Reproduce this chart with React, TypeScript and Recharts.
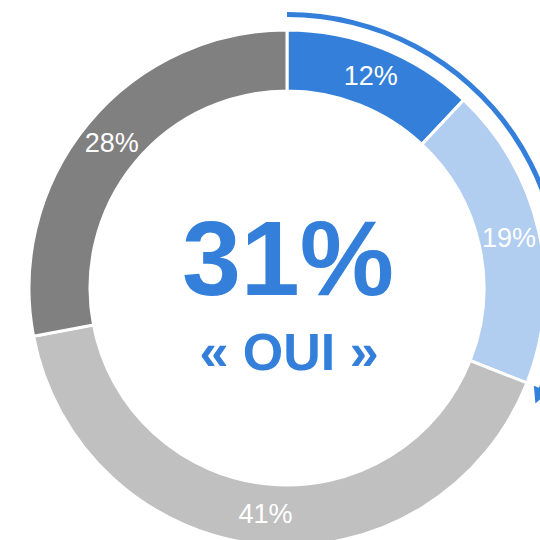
import React from "react";
import { PieChart, Pie, Cell, Label } from "recharts";

const answers = ["OUI certainement", "OUI probablement", "NON probablement", "NON certainement"];
const shares = [12, 19, 41, 28];
const colors = ["#337FDA", "#B1CDF0", "#C0C0C0", "#808080"];
const yesTotal = "31%";
const yesLabel = "« OUI »";
const arcShares = [31, 69];

const FONT = "'Liberation Sans', Arial, sans-serif";
const RAD = Math.PI / 180;
const CX = 287;
const CY = 288;

const data = answers.map((name, i) => ({ name, value: shares[i] }));
const arcData = arcShares.map((value, i) => ({ name: i === 0 ? "oui" : "reste", value }));

const renderSliceLabel = (props: any) => {
    const { cx, cy, midAngle, innerRadius, outerRadius, value } = props;
    const r = (innerRadius + outerRadius) / 2;
    const x = cx + r * Math.cos(-midAngle * RAD);
    const y = cy + r * Math.sin(-midAngle * RAD);
    return (
        <text
            x={x}
            y={y}
            fill="#fff"
            fontSize={27}
            fontFamily={FONT}
            textAnchor="middle"
            dominantBaseline="central"
        >
            {value}%
        </text>
    );
};

// arrow head at the end of the "oui" arc
const renderArrow = (props: any) => {
    const { cx, cy, innerRadius, outerRadius, endAngle, index } = props;
    if (index !== 0) return null;
    const r = (innerRadius + outerRadius) / 2;
    const a = endAngle * RAD;
    const px = cx + r * Math.cos(a);
    const py = cy - r * Math.sin(a);
    const tx = Math.sin(a);
    const ty = Math.cos(a);
    const nx = Math.cos(a);
    const ny = -Math.sin(a);
    const len = 16;
    const w = 8;
    const pts = [
        [px + tx * len, py + ty * len],
        [px + nx * w, py + ny * w],
        [px - nx * w, py - ny * w],
    ]
        .map((p) => p.join(","))
        .join(" ");
    return <polygon points={pts} fill="#337FDA" />;
};

const CenterText = () => (
    <g fontFamily={FONT} fontWeight="bold" fill="#337FDA" textAnchor="middle">
        <text x={CX + 1} y={CY + 7} fontSize={106}>
            {yesTotal}
        </text>
        <text x={CX + 2} y={CY + 82} fontSize={52}>
            {yesLabel}
        </text>
    </g>
);

export default function App() {
    return (
        <div style={{ position: "absolute", left: 0, top: 0, background: "#fff" }}>
            <PieChart width={540} height={540} margin={{ top: 0, right: 0, bottom: 0, left: 0 }}>
                <Pie
                    data={data}
                    dataKey="value"
                    cx={CX}
                    cy={CY}
                    innerRadius={197}
                    outerRadius={258}
                    startAngle={90}
                    endAngle={-270}
                    stroke="#fff"
                    strokeWidth={3}
                    label={renderSliceLabel}
                    labelLine={false}
                    isAnimationActive={false}
                >
                    {data.map((d, i) => (
                        <Cell key={d.name} fill={colors[i]} />
                    ))}
                    <Label content={<CenterText />} position="center" />
                </Pie>
                <Pie
                    data={arcData}
                    dataKey="value"
                    cx={CX}
                    cy={CY}
                    innerRadius={271}
                    outerRadius={276}
                    startAngle={90}
                    endAngle={-270}
                    stroke="none"
                    label={renderArrow}
                    labelLine={false}
                    isAnimationActive={false}
                >
                    {arcData.map((d, i) => (
                        <Cell key={d.name} fill={i === 0 ? "#337FDA" : "transparent"} />
                    ))}
                </Pie>
            </PieChart>
        </div>
    );
}
